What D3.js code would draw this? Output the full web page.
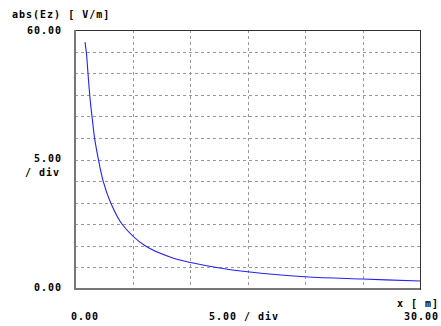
<!DOCTYPE html>
<html>
<head>
<meta charset="utf-8">
<script src="https://cdn.jsdelivr.net/npm/d3@7"></script>
<style>
  body { margin: 0; background: #fff; }
  text { font-family: "DejaVu Sans Mono", monospace; font-weight: bold; font-size: 10px; letter-spacing: 1px; fill: #000; }
</style>
</head>
<body>
<div id="chart"></div>
<script>
// field strength along x
var xVals = [0.87, 1.0, 1.1, 1.2, 1.35, 1.5, 1.7, 2.0, 2.45, 3.1, 4.1, 6.1, 8.5, 12.3, 15, 20, 25, 30];
var eVals = [57.2, 54.5, 51, 47.5, 43, 39.5, 35, 30.5, 25, 20, 15, 10, 7.2, 5, 4, 2.85, 2.3, 1.85];

var xGrid = [5, 10, 15, 20, 25];
var yGrid = [5, 10, 15, 20, 25, 30, 35, 40, 45, 50, 55];

var yTitle = "abs(Ez) [ V/m]";
var xTitle = "x [ m]";
var yMaxLabel = "60.00", yMinLabel = "0.00", yDivLabel = ["5.00", "/ div"];
var xMinLabel = "0.00", xMaxLabel = "30.00", xDivLabel = "5.00 / div";

var width = 441, height = 326;
var pLeft = 75, pRight = 420, pTop = 30, pBottom = 289;

var x = d3.scaleLinear().domain([0, 30]).range([pLeft, pRight]);
var y = d3.scaleLinear().domain([0, 60]).range([pBottom, pTop]);

var svg = d3.select("#chart").append("svg")
  .attr("width", width)
  .attr("height", height);

// dashed grid
svg.selectAll(".vgrid").data(xGrid).enter().append("line")
  .attr("x1", function(d) { return Math.round(x(d)) + 0.5; })
  .attr("x2", function(d) { return Math.round(x(d)) + 0.5; })
  .attr("y1", pTop).attr("y2", pBottom)
  .attr("stroke", "#999").attr("stroke-dasharray", "3,3");

svg.selectAll(".hgrid").data(yGrid).enter().append("line")
  .attr("y1", function(d) { return Math.round(y(d)) + 0.5; })
  .attr("y2", function(d) { return Math.round(y(d)) + 0.5; })
  .attr("x1", pLeft).attr("x2", pRight)
  .attr("stroke", "#999").attr("stroke-dasharray", "3,3");

// frame: thin dark top/right, thick grey left/bottom
svg.append("line").attr("x1", pLeft).attr("x2", pRight + 0.5).attr("y1", pTop + 0.5).attr("y2", pTop + 0.5).attr("stroke", "#333");
svg.append("line").attr("x1", pRight + 0.5).attr("x2", pRight + 0.5).attr("y1", pTop).attr("y2", pBottom + 1).attr("stroke", "#333");
svg.append("line").attr("x1", pLeft).attr("x2", pLeft).attr("y1", pTop).attr("y2", pBottom + 1).attr("stroke", "#777").attr("stroke-width", 2);
svg.append("line").attr("x1", pLeft - 1).attr("x2", pRight).attr("y1", pBottom).attr("y2", pBottom).attr("stroke", "#777").attr("stroke-width", 2);

// curve
var pts = xVals.map(function(v, i) { return [v, eVals[i]]; });
var line = d3.line()
  .x(function(d) { return x(d[0]); })
  .y(function(d) { return y(d[1]); })
  .curve(d3.curveCatmullRom.alpha(0.5));

svg.append("path")
  .datum(pts)
  .attr("d", line)
  .attr("fill", "none")
  .attr("stroke", "#2222ff")
  .attr("stroke-width", 1.1);

// labels
svg.append("text").attr("x", 12).attr("y", 18).text(yTitle);
svg.append("text").attr("x", 62).attr("y", 34).attr("text-anchor", "end").text(yMaxLabel);
svg.append("text").attr("x", 62).attr("y", 162).attr("text-anchor", "end").text(yDivLabel[0]);
svg.append("text").attr("x", 60).attr("y", 176).attr("text-anchor", "end").text(yDivLabel[1]);
svg.append("text").attr("x", 62).attr("y", 291).attr("text-anchor", "end").text(yMinLabel);

svg.append("text").attr("x", 439).attr("y", 307).attr("text-anchor", "end").text(xTitle);
svg.append("text").attr("x", 71).attr("y", 320).text(xMinLabel);
svg.append("text").attr("x", 244).attr("y", 320).attr("text-anchor", "middle").text(xDivLabel);
svg.append("text").attr("x", 439).attr("y", 320).attr("text-anchor", "end").text(xMaxLabel);
</script>
</body>
</html>
